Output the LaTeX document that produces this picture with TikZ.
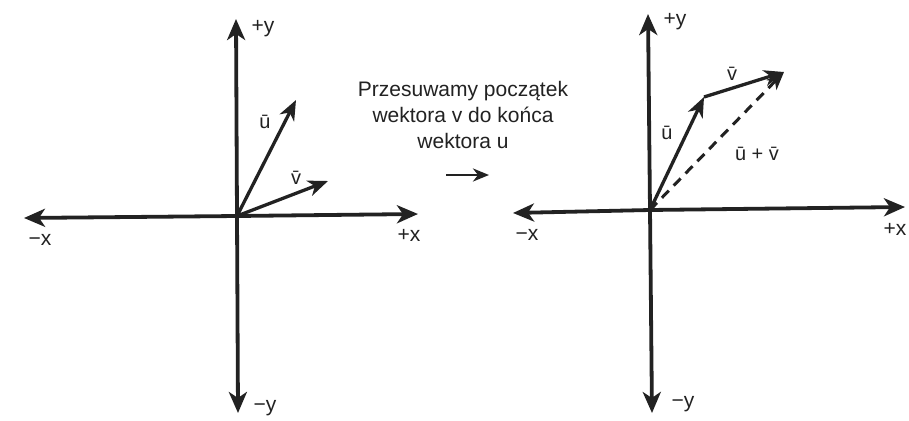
\documentclass[tikz,border=0pt]{standalone}
\usepackage{fontspec}
\setmainfont{Liberation Sans}
\usetikzlibrary{arrows.meta}
\definecolor{ink}{HTML}{222222}
\begin{document}
\begin{tikzpicture}[x=1pt,y=-1pt,
  axis/.style={draw=ink,line width=3.8pt,-{Stealth[length=21pt,width=18pt,inset=6pt]}},
  vec/.style={draw=ink,line width=3.3pt,-{Stealth[length=20pt,width=16pt,inset=6pt]}},
  sumvec/.style={draw=ink,line width=3pt,dash pattern=on 10pt off 7pt,-{Stealth[length=18pt,width=14pt,inset=5pt]}},
  lbl/.style={text=ink,font=\fontsize{21}{24}\selectfont,inner sep=0pt},
  vlbl/.style={text=ink,font=\fontsize{20}{22}\selectfont,inner sep=0pt},
  note/.style={text=ink,font=\fontsize{21}{26}\selectfont,align=center,inner sep=0pt}]
\useasboundingbox (0,0) rectangle (909,420);
\fill[white] (0,0) rectangle (909,420);
% ---------- left diagram ----------
\coordinate (O1) at (237,216);
\coordinate (L1y) at (236,19);
\coordinate (L1ym) at (238,413);
\coordinate (L1xm) at (24,218);
\coordinate (L1xp) at (418,214);
\coordinate (U1) at (296,100);
\coordinate (V1) at (328,181);
\draw[axis] (O1) -- (L1y);
\draw[axis] (O1) -- (L1ym);
\draw[axis] (O1) -- (L1xm);
\draw[axis] (O1) -- (L1xp);
\draw[vec] (O1) -- (U1);
\draw[vec] (O1) -- (V1);
\node[lbl] (py1) at (263,29) {+y};
\node[lbl] (my1) at (265,408) {\textminus y};
\node[lbl] (mx1) at (40,240) {\textminus x};
\node[lbl] (px1) at (409,235) {+x};
\node[vlbl] (u1) at (265,122) {ū};
\node[vlbl] (v1) at (296,178) {\={v}};
% ---------- middle ----------
\node[note] (txt) at (463,115) {Przesuwamy początek\\wektora v do końca\\wektora u};
\coordinate (A1) at (446,175);
\coordinate (A2) at (489,175);
\draw[draw=ink,line width=2.8pt,-{Stealth[length=16pt,width=13pt,inset=5pt]}] (A1) -- (A2);
% ---------- right diagram ----------
\coordinate (O2) at (650,210);
\coordinate (R2y) at (648,14);
\coordinate (R2ym) at (652,413);
\coordinate (R2xm) at (513,213);
\coordinate (R2xp) at (905,207);
\coordinate (U2) at (704,97);
\coordinate (V2) at (784,72);
\draw[axis] (O2) -- (R2y);
\draw[axis] (O2) -- (R2ym);
\draw[axis] (O2) -- (R2xm);
\draw[axis] (O2) -- (R2xp);
\draw[sumvec] (O2) -- (V2);
\draw[vec] (O2) -- (U2);
\draw[vec] (U2) -- (V2);
\node[lbl] (py2) at (675,22) {+y};
\node[lbl] (my2) at (683,404) {\textminus y};
\node[lbl] (mx2) at (527,235) {\textminus x};
\node[lbl] (px2) at (895,229) {+x};
\node[vlbl] (u2) at (667,133) {ū};
\node[vlbl] (v2) at (732,74) {\={v}};
\node[vlbl] (uv2) at (757,154) {ū + \={v}};
\end{tikzpicture}
\end{document}
